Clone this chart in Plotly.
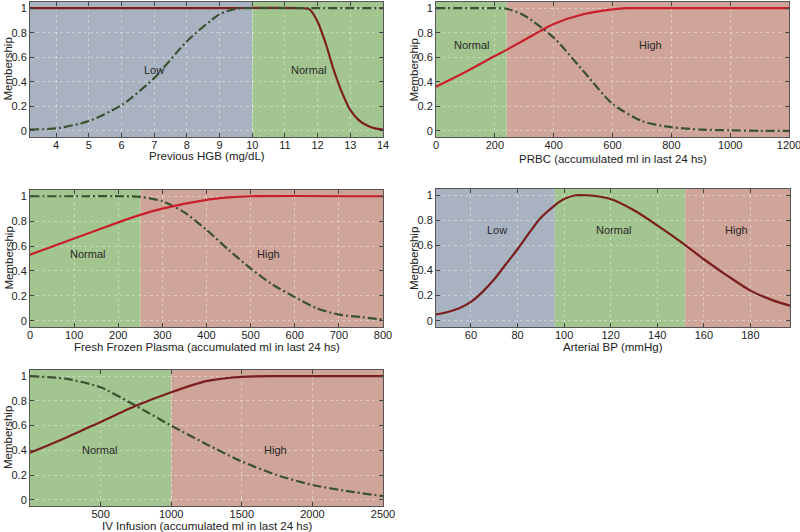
import plotly.graph_objects as go

W, H = 800, 532

# ---------------- data ----------------
# Panel 1: Previous HGB
hgb_dash_x = [3.2, 4, 5, 6, 7, 8, 9, 9.5, 9.8, 10, 12, 14]
hgb_dash_y = [0.01, 0.02, 0.08, 0.21, 0.43, 0.73, 0.95, 0.995, 1, 1, 1, 1]
hgb_red_x = [3.2, 6, 9, 11.5, 11.75, 12, 12.25, 12.5, 12.75, 13, 13.25, 13.5, 13.75, 14]
hgb_red_y = [1, 1, 1, 1, 0.99, 0.89, 0.71, 0.49, 0.31, 0.17, 0.09, 0.045, 0.02, 0.01]
hgb_regions = [(3.2, 10, "Low"), (10, 14, "Normal")]
hgb_labels = [(7, 0.5, "Low"), (11.72, 0.5, "Normal")]

# Panel 2: PRBC
prbc_red_x = [0, 100, 200, 240, 300, 400, 500, 600, 650, 700, 1200]
prbc_red_y = [0.36, 0.48, 0.61, 0.66, 0.74, 0.87, 0.95, 0.99, 1, 1, 1]
prbc_dash_x = [0, 120, 200, 240, 300, 400, 500, 600, 700, 800, 900, 1000, 1100, 1200]
prbc_dash_y = [1, 1, 1, 0.995, 0.94, 0.76, 0.49, 0.22, 0.08, 0.03, 0.01, 0.005, 0, 0]
prbc_regions = [(0, 240, "Normal"), (240, 1200, "High")]
prbc_labels = [(122, 0.7, "Normal"), (730, 0.7, "High")]

# Panel 3: Fresh Frozen Plasma
ffp_red_x = [0, 100, 200, 250, 300, 400, 450, 500, 800]
ffp_red_y = [0.53, 0.66, 0.79, 0.85, 0.9, 0.97, 0.99, 1, 1]
ffp_dash_x = [0, 125, 210, 250, 300, 350, 400, 450, 500, 550, 600, 650, 700, 750, 800]
ffp_dash_y = [1, 1, 1, 0.995, 0.96, 0.87, 0.73, 0.57, 0.42, 0.29, 0.19, 0.1, 0.05, 0.03, 0.01]
ffp_regions = [(0, 250, "Normal"), (250, 800, "High")]
ffp_labels = [(130, 0.54, "Normal"), (540, 0.54, "High")]

# Panel 4: Arterial BP
bp_x = [45, 50, 55, 60, 65, 70, 75, 80, 85, 90, 96, 100, 105, 110, 115, 120, 130, 140, 150, 160, 170, 180, 190, 197]
bp_y = [0.05, 0.07, 0.1, 0.15, 0.23, 0.33, 0.45, 0.57, 0.7, 0.82, 0.92, 0.97, 1, 1, 0.99, 0.97, 0.88, 0.76, 0.63, 0.49, 0.36, 0.24, 0.16, 0.12]
bp_regions = [(45, 96, "Low"), (96, 152, "Normal"), (152, 197, "High")]
bp_labels = [(71, 0.72, "Low"), (121, 0.72, "Normal"), (174, 0.72, "High")]

# Panel 5: IV Infusion
iv_red_x = [0, 250, 500, 750, 1000, 1250, 1500, 1750, 2500]
iv_red_y = [0.38, 0.5, 0.63, 0.76, 0.87, 0.96, 0.995, 1, 1]
iv_dash_x = [0, 250, 500, 750, 1000, 1250, 1500, 1750, 2000, 2250, 2500]
iv_dash_y = [1, 0.98, 0.91, 0.76, 0.6, 0.45, 0.31, 0.2, 0.12, 0.07, 0.03]
iv_regions = [(0, 1000, "Normal"), (1000, 2500, "High")]
iv_labels = [(490, 0.4, "Normal"), (1740, 0.4, "High")]

y_ticks = [0, 0.2, 0.4, 0.6, 0.8, 1]
y_ticktext = ["0", "0.2", "0.4", "0.6", "0.8", "1"]

# ---------------- style ----------------
REGION_COLORS = {"Low": "rgb(168,178,192)", "Normal": "rgb(163,197,143)", "High": "rgb(207,164,153)"}
DARK_RED = "rgb(122,30,30)"
RED = "rgb(200,32,42)"
DASH_GREEN = "rgb(58,82,48)"
DASH = "9px,3px,2px,3px"
FONT = "Liberation Sans, Arial, Helvetica, sans-serif"


def px(x):
    return x / W


def py(y):
    return 1 - y / H


panels = [
    dict(name="1", xd=(30, 383), yd=(2, 137), xr=[3.2, 14], xt=list(range(4, 15)),
         title="Previous HGB (mg/dL)", ty=156, regions=hgb_regions, labels=hgb_labels,
         lines=[(hgb_red_x, hgb_red_y, DARK_RED, None), (hgb_dash_x, hgb_dash_y, DASH_GREEN, DASH)]),
    dict(name="2", xd=(436, 789), yd=(2, 137), xr=[0, 1200], xt=list(range(0, 1201, 200)),
         title="PRBC (accumulated ml in last 24 hs)", ty=159, regions=prbc_regions, labels=prbc_labels,
         lines=[(prbc_dash_x, prbc_dash_y, DASH_GREEN, DASH), (prbc_red_x, prbc_red_y, RED, None)]),
    dict(name="3", xd=(30, 383), yd=(190, 327), xr=[0, 800], xt=list(range(0, 801, 100)),
         title="Fresh Frozen Plasma (accumulated ml in last 24 hs)", ty=347, regions=ffp_regions, labels=ffp_labels,
         lines=[(ffp_dash_x, ffp_dash_y, DASH_GREEN, DASH), (ffp_red_x, ffp_red_y, RED, None)]),
    dict(name="4", xd=(436, 790), yd=(189, 327), xr=[45, 197], xt=list(range(60, 181, 20)),
         title="Arterial BP (mmHg)", ty=347, regions=bp_regions, labels=bp_labels,
         lines=[(bp_x, bp_y, DARK_RED, None)]),
    dict(name="5", xd=(30, 383), yd=(370, 506), xr=[0, 2500], xt=list(range(500, 2501, 500)),
         title="IV Infusion (accumulated ml in last 24 hs)", ty=526, regions=iv_regions, labels=iv_labels,
         lines=[(iv_dash_x, iv_dash_y, DASH_GREEN, DASH), (iv_red_x, iv_red_y, DARK_RED, None)]),
]

fig = go.Figure()
shapes = []
annotations = []
layout = dict(width=W, height=H, margin=dict(l=0, r=0, t=0, b=0, autoexpand=False), showlegend=False,
              paper_bgcolor="white", plot_bgcolor="white",
              font=dict(family=FONT, size=11, color="#222"))

for p in panels:
    n = p["name"]
    xa = "xaxis" if n == "1" else f"xaxis{n}"
    ya = "yaxis" if n == "1" else f"yaxis{n}"
    xref = "x" if n == "1" else f"x{n}"
    yref = "y" if n == "1" else f"y{n}"
    axis_common = dict(showline=True, linecolor="#555", linewidth=1, mirror="ticks",
                       ticks="inside", ticklen=4, tickcolor="#444", zeroline=False, automargin=False,
                       ticklabeloverflow="allow",
                       showgrid=True, gridcolor="rgba(235,235,235,0.5)", griddash="dot", gridwidth=1,
                       tickfont=dict(family=FONT, size=11, color="#222"))
    layout[xa] = dict(axis_common, domain=[px(p["xd"][0]), px(p["xd"][1])], range=p["xr"],
                      tickvals=p["xt"], anchor=yref, ticklabelstandoff=-2)
    layout[ya] = dict(axis_common, domain=[py(p["yd"][1]), py(p["yd"][0])], range=[-0.05, 1.05],
                      tickvals=y_ticks, ticktext=y_ticktext, anchor=xref)
    for x0, x1, lab in p["regions"]:
        shapes.append(dict(type="rect", xref=xref, yref=f"{yref} domain", x0=x0, x1=x1, y0=0, y1=1,
                           fillcolor=REGION_COLORS[lab], line=dict(width=0), layer="below"))
    for x, y, txt in p["labels"]:
        annotations.append(dict(x=x, y=y, xref=xref, yref=yref, text=txt, showarrow=False,
                                font=dict(family=FONT, size=11, color="#2a2a2a")))
    for xs, ys, col, dash in p["lines"]:
        fig.add_trace(go.Scatter(x=xs, y=ys, mode="lines", xaxis=xref, yaxis=yref,
                                 line=dict(color=col, width=2.2, dash=dash or "solid",
                                           shape="spline", smoothing=0.7),
                                 hoverinfo="skip"))
    # axis titles
    annotations.append(dict(x=px((p["xd"][0] + p["xd"][1]) / 2), y=py(p["ty"]), xref="paper", yref="paper",
                            text=p["title"], showarrow=False, xanchor="center", yanchor="middle",
                            font=dict(family=FONT, size=11.5, color="#222")))
    annotations.append(dict(x=px(p["xd"][0] - 22), y=py((p["yd"][0] + p["yd"][1]) / 2), xref="paper", yref="paper",
                            text="Membership", showarrow=False, textangle=-90, xanchor="center", yanchor="middle",
                            font=dict(family=FONT, size=11.5, color="#222")))

layout["shapes"] = shapes
layout["annotations"] = annotations
fig.update_layout(**layout)
fig.write_html("out.html", config={"displayModeBar": False},
               post_script="document.body.style.margin='0';document.body.style.overflow='hidden';")
